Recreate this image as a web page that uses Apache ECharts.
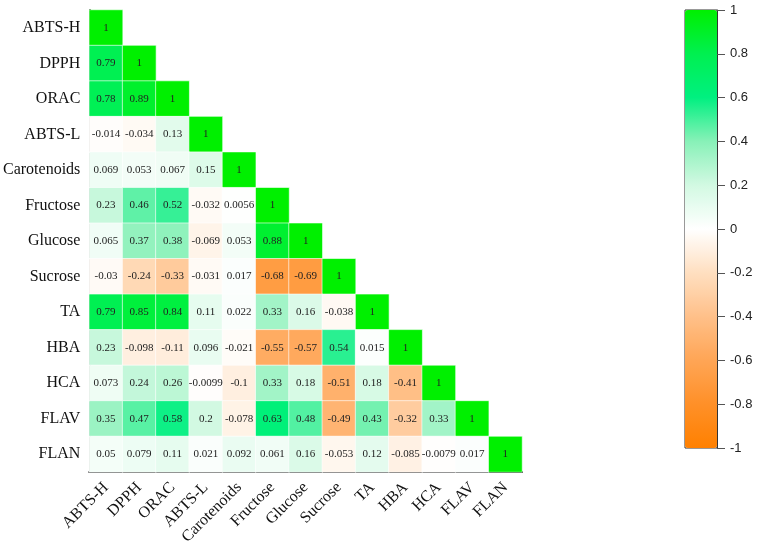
<!DOCTYPE html>
<html>
<head>
<meta charset="utf-8">
<script src="https://cdn.jsdelivr.net/npm/echarts@6/dist/echarts.min.js"></script>
<style>
    html, body { margin: 0; padding: 0; background: #fff; }
    #chart { width: 760px; height: 550px; }
</style>
</head>
<body>
<div id="chart"></div>
<script>
// variables (same order on both axes)
var variables = ['ABTS-H', 'DPPH', 'ORAC', 'ABTS-L', 'Carotenoids', 'Fructose', 'Glucose',
    'Sucrose', 'TA', 'HBA', 'HCA', 'FLAV', 'FLAN'];

// lower triangle of the correlation matrix, one row per variable
var rowABTSH = [1];
var rowDPPH = [0.79, 1];
var rowORAC = [0.78, 0.89, 1];
var rowABTSL = [-0.014, -0.034, 0.13, 1];
var rowCarotenoids = [0.069, 0.053, 0.067, 0.15, 1];
var rowFructose = [0.23, 0.46, 0.52, -0.032, 0.0056, 1];
var rowGlucose = [0.065, 0.37, 0.38, -0.069, 0.053, 0.88, 1];
var rowSucrose = [-0.03, -0.24, -0.33, -0.031, 0.017, -0.68, -0.69, 1];
var rowTA = [0.79, 0.85, 0.84, 0.11, 0.022, 0.33, 0.16, -0.038, 1];
var rowHBA = [0.23, -0.098, -0.11, 0.096, -0.021, -0.55, -0.57, 0.54, 0.015, 1];
var rowHCA = [0.073, 0.24, 0.26, -0.0099, -0.1, 0.33, 0.18, -0.51, 0.18, -0.41, 1];
var rowFLAV = [0.35, 0.47, 0.58, 0.2, -0.078, 0.63, 0.48, -0.49, 0.43, -0.32, 0.33, 1];
var rowFLAN = [0.05, 0.079, 0.11, 0.021, 0.092, 0.061, 0.16, -0.053, 0.12, -0.085, -0.0079, 0.017, 1];

var rows = [rowABTSH, rowDPPH, rowORAC, rowABTSL, rowCarotenoids, rowFructose, rowGlucose,
    rowSucrose, rowTA, rowHBA, rowHCA, rowFLAV, rowFLAN];

// colour bar ticks
var scaleMin = -1;
var scaleMax = 1;
var scaleStep = 0.2;

// [x index, y index, value]
var cells = [];
rows.forEach(function (row, i) {
    row.forEach(function (v, j) {
        cells.push([j, i, v]);
    });
});

var myChart = echarts.init(document.getElementById('chart'));

var option = {
    backgroundColor: '#fff',
    animation: false,
    grid: [
        { left: 89, top: 10, width: 433, height: 462 },
        // colour bar frame + its tick axis
        { left: 685, top: 10, width: 32, height: 438, show: true, borderColor: '#333', borderWidth: 1, backgroundColor: 'transparent' }
    ],
    xAxis: [
        {
            type: 'category',
            gridIndex: 0,
            data: variables,
            axisLine: { lineStyle: { color: '#000', width: 2 } },
            axisTick: { show: false },
            splitLine: { show: false },
            axisLabel: {
                rotate: 45,
                interval: 0,
                margin: 13,
                fontFamily: 'Liberation Serif',
                fontSize: 16,
                color: '#111'
            }
        },
        { type: 'category', gridIndex: 1, data: [''], show: false }
    ],
    yAxis: [
        {
            type: 'category',
            gridIndex: 0,
            data: variables,
            inverse: true,
            axisLine: { lineStyle: { color: '#000', width: 2 } },
            axisTick: { show: false },
            splitLine: { show: false },
            axisLabel: {
                interval: 0,
                margin: 9,
                fontFamily: 'Liberation Serif',
                fontSize: 16,
                color: '#111'
            }
        },
        {
            type: 'value',
            gridIndex: 1,
            position: 'right',
            z: 10,
            min: scaleMin,
            max: scaleMax,
            interval: scaleStep,
            axisLine: { show: true, onZero: false, lineStyle: { color: '#333', width: 1 } },
            axisTick: { show: true, inside: false, length: 8, lineStyle: { color: '#555', width: 1 } },
            splitLine: { show: false },
            axisLabel: {
                margin: 13,
                fontFamily: 'Liberation Sans',
                fontSize: 13,
                color: '#222',
                formatter: function (v) {
                    return String(Math.round(v * 10) / 10);
                }
            }
        }
    ],
    visualMap: {
        type: 'continuous',
        min: scaleMin,
        max: scaleMax,
        seriesIndex: 0,
        calculable: false,
        realtime: false,
        orient: 'vertical',
        left: 685,
        top: 10,
        itemWidth: 32,
        itemHeight: 438,
        padding: 0,
        text: ['', ''],
        showLabel: false,
        inRange: {
            color: ['#FF8000', '#FF9028', '#FFA555', '#FFC089', '#FFDFC0', '#FFFFFF',
                '#D2F9E2', '#88F1B8', '#00F080', '#00F050', '#00F000']
        }
    },
    series: [
        {
            type: 'heatmap',
            xAxisIndex: 0,
            yAxisIndex: 0,
            data: cells,
            itemStyle: { borderColor: '#fff', borderWidth: 0.6 },
            label: {
                show: true,
                fontFamily: 'Liberation Serif',
                fontSize: 11,
                color: '#222',
                formatter: function (p) {
                    return String(p.value[2]);
                }
            }
        }
    ]
};

myChart.setOption(option);
</script>
</body>
</html>
